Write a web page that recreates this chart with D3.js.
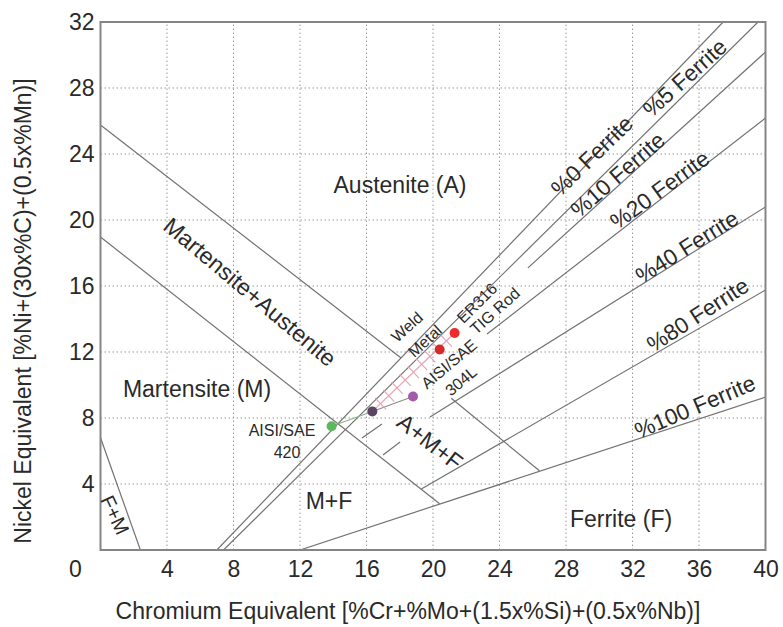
<!DOCTYPE html>
<html><head><meta charset="utf-8">
<script src="https://cdnjs.cloudflare.com/ajax/libs/d3/7.8.5/d3.min.js"></script>
<style>body{margin:0;background:#fff}svg{display:block;font-family:"Liberation Sans",Arial,sans-serif}</style>
</head><body><svg id="c" width="783" height="627"></svg>
<script>
// ---- data ----
const xTicks = [4, 8, 12, 16, 20, 24, 28, 32, 36, 40];
const yTicks = [4, 8, 12, 16, 20, 24, 28, 32];
const xTitle = "Chromium Equivalent [%Cr+%Mo+(1.5x%Si)+(0.5x%Nb)]";
const yTitle = "Nickel Equivalent [%Ni+(30x%C)+(0.5x%Mn)]";

// phase boundary segments [CrEq, NiEq]
const boundaryNames = ["A/A+M", "A/A+M lower", "M/M+A", "F+M", "short1", "short2"];
const boundarySegs = [
  [[0, 25.76], [18.08, 11.64]],
  [[21.1, 9.2], [26.4, 4.8]],
  [[0, 18.97], [20.4, 2.8]],
  [[0, 6.8], [2.4, 0]],
  [[15.73, 6.79], [16.93, 7.64]],
  [[16.99, 5.76], [18.02, 6.55]]
];
// iso-ferrite lines
const ferriteNames = ["%0 Ferrite", "%5 Ferrite", "%10 Ferrite", "%20 Ferrite", "%40 Ferrite", "%80 Ferrite", "%100 Ferrite"];
const ferriteSegs = [
  [[7.0, 0], [37.45, 32]],
  [[7.4, 0], [39.55, 32]],
  [[25.71, 17.1], [40, 30.18]],
  [[23.25, 13.09], [40, 26.18]],
  [[19.82, 8.06], [40, 20.79]],
  [[19.3, 3.7], [40, 15.76]],
  [[12.0, 0], [40, 9.27]]
];
// material points
const pointNames = ["AISI/SAE 420", "Mix", "AISI/SAE 304L", "Weld Metal", "ER316 TIG Rod"];
const pointCr = [13.9, 16.35, 18.8, 20.4, 21.3];
const pointNi = [7.5, 8.4, 9.3, 12.15, 13.15];
const pointColors = ["#5cb85c", "#5b4560", "#a35aa8", "#d42a2a", "#ee2a2a"];

// ---- layout ----
const svg = d3.select("#c");
const x = d3.scaleLinear().domain([0, 40]).range([100.5, 765.5]);
const y = d3.scaleLinear().domain([0, 32]).range([550, 22]);
const ink = "#2a2a2a", lineCol = "#727272";

// grid
const g = svg.append("g");
g.selectAll(".vg").data(xTicks.filter(d => d < 40)).join("line")
  .attr("x1", d => x(d)).attr("x2", d => x(d)).attr("y1", y(0)).attr("y2", y(32))
  .attr("stroke", "#9a9a9a").attr("stroke-width", 1).attr("stroke-dasharray", "1.5,2.5");
g.selectAll(".hg").data(yTicks.filter(d => d < 32)).join("line")
  .attr("y1", d => y(d)).attr("y2", d => y(d)).attr("x1", x(0)).attr("x2", x(40))
  .attr("stroke", "#9a9a9a").attr("stroke-width", 1).attr("stroke-dasharray", "1.5,2.5");

// clip
svg.append("clipPath").attr("id", "clip").append("rect")
  .attr("x", x(0)).attr("y", y(32)).attr("width", x(40) - x(0)).attr("height", y(0) - y(32));
const pl = svg.append("g").attr("clip-path", "url(#clip)");
const line = d3.line().x(d => x(d[0])).y(d => y(d[1]));
pl.selectAll(".b").data(boundarySegs).join("path").attr("d", line)
  .attr("fill", "none").attr("stroke", lineCol).attr("stroke-width", 1.2);
pl.selectAll(".f").data(ferriteSegs).join("path").attr("d", line)
  .attr("fill", "none").attr("stroke", lineCol).attr("stroke-width", 1.2);

// dilution lines
const P = i => [pointCr[i], pointNi[i]];
pl.append("path").attr("d", line([P(0), P(1)])).attr("stroke", "#8fb08f").attr("stroke-width", 1.1).attr("fill", "none");
pl.append("path").attr("d", line([P(1), P(2)])).attr("stroke", "#8a8a8a").attr("stroke-width", 1.1).attr("fill", "none");
pl.append("path").attr("d", line([P(1), P(4)])).attr("stroke", "#e8a0b4").attr("stroke-width", 1.2).attr("fill", "none");
// dilution ticks perpendicular to mix->filler line
{
  const [x0, y0] = [x(pointCr[1]), y(pointNi[1])], [x1, y1] = [x(pointCr[4]), y(pointNi[4])];
  const dx = x1 - x0, dy = y1 - y0, L = Math.hypot(dx, dy), nx = -dy / L, ny = dx / L, h = 8;
  const ts = d3.range(1, 10).map(i => i / 10);
  pl.selectAll(".tk").data(ts).join("line")
    .attr("x1", t => x0 + dx * t - nx * h).attr("y1", t => y0 + dy * t - ny * h)
    .attr("x2", t => x0 + dx * t + nx * h).attr("y2", t => y0 + dy * t + ny * h)
    .attr("stroke", "#e8a0b4").attr("stroke-width", 1.1);
}
pl.selectAll(".pt").data(pointCr).join("circle")
  .attr("cx", d => x(d)).attr("cy", (d, i) => y(pointNi[i])).attr("r", 5)
  .attr("fill", (d, i) => pointColors[i]);

// frame
svg.append("rect").attr("x", x(0)).attr("y", y(32)).attr("width", x(40) - x(0)).attr("height", y(0) - y(32))
  .attr("fill", "none").attr("stroke", "#858585").attr("stroke-width", 2);

// axes
const ax = svg.append("g").attr("transform", `translate(0,${y(0)})`)
  .call(d3.axisBottom(x).tickValues(xTicks).tickSize(0).tickPadding(11).tickFormat(d3.format("d")));
ax.select(".domain").remove();
ax.selectAll("text").attr("font-size", 23).attr("fill", ink).attr("font-family", "Liberation Sans, Arial, sans-serif");
const ay = svg.append("g").attr("transform", `translate(${x(0)},0)`)
  .call(d3.axisLeft(y).tickValues(yTicks).tickSize(0).tickPadding(6).tickFormat(d3.format("d")));
ay.select(".domain").remove();
ay.selectAll("text").attr("font-size", 23).attr("fill", ink).attr("font-family", "Liberation Sans, Arial, sans-serif");
// corner zero
svg.append("text").attr("x", x(0) - 25).attr("y", y(0) + 27).attr("text-anchor", "middle")
  .attr("font-size", 23).attr("fill", ink).text("0");

svg.append("text").attr("x", 408).attr("y", 619).attr("text-anchor", "middle")
  .attr("font-size", 23).attr("fill", ink).text(xTitle);
svg.append("text").attr("transform", "translate(31,311) rotate(-90)").attr("text-anchor", "middle")
  .attr("font-size", 23).attr("fill", ink).text(yTitle);

// labels
function lab(t, cx, cy, ang, fs) {
  svg.append("text").attr("transform", `translate(${cx},${cy}) rotate(${ang})`)
    .attr("text-anchor", "middle").attr("dominant-baseline", "central")
    .attr("font-size", fs).attr("fill", ink).text(t);
}
lab("Austenite (A)", 400, 185, 0, 23);
lab("Martensite (M)", 197, 389, 0, 23);
lab("Martensite+Austenite", 250, 292, 40, 23);
lab("M+F", 329, 501, 0, 23);
lab("F+M", 115, 515, 65, 20);
lab("A+M+F", 430, 442, 38, 23);
lab("Ferrite (F)", 621, 519, 0, 23);
const fLabPos = [[592, 156, -44], [685, 78, -42], [618, 175, -41], [660, 190, -36], [687, 247, -32], [698, 315, -33], [695, 407, -23]];
ferriteNames.forEach((n, i) => lab(n, fLabPos[i][0], fLabPos[i][1], fLabPos[i][2], 22.5));
lab("AISI/SAE", 282, 430, 0, 16);
lab("420", 287, 452, 0, 16);
lab("Weld", 407, 327, -42, 16);
lab("Metal", 425, 341, -42, 16);
lab("ER316", 477, 303, -45, 16);
lab("TIG Rod", 495, 311, -42, 16);
lab("AISI/SAE", 449, 364, -40, 16);
lab("304L", 461, 381, -40, 16);
</script></body></html>
